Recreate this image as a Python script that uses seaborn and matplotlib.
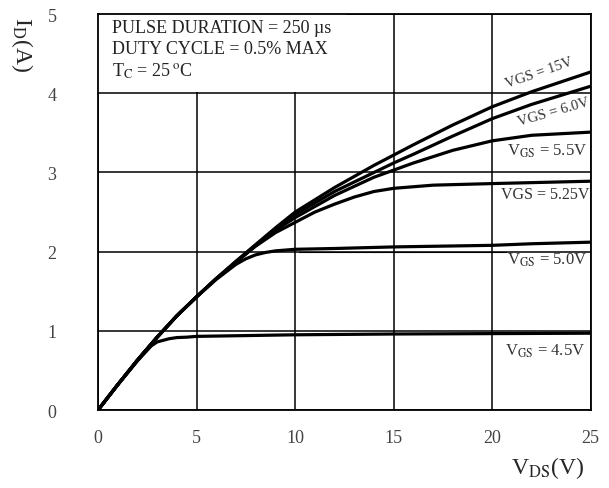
import pandas as pd
import matplotlib.pyplot as plt
import seaborn as sns
from matplotlib.patches import Rectangle

# -------------------------------
# Data
# -------------------------------
vds_15 = [0, 1, 2, 3, 4, 5, 6, 7, 8, 9, 10, 12, 14, 15, 16, 18, 20, 22, 25]
id_15 = [0, 0.32, 0.63, 0.92, 1.19, 1.43, 1.66, 1.88, 2.09, 2.30, 2.50,
         2.81, 3.09, 3.22, 3.35, 3.60, 3.83, 4.02, 4.27]

vds_60 = [0, 1, 2, 3, 4, 5, 6, 7, 8, 9, 10, 12, 14, 15, 16, 18, 20, 22, 25]
id_60 = [0, 0.32, 0.63, 0.92, 1.19, 1.43, 1.66, 1.87, 2.08, 2.29, 2.47,
         2.76, 3.00, 3.12, 3.23, 3.46, 3.68, 3.86, 4.09]

vds_55 = [0, 1, 2, 3, 4, 5, 6, 7, 8, 9, 10, 12, 14, 15, 16, 18, 20, 22, 25]
id_55 = [0, 0.32, 0.63, 0.92, 1.19, 1.43, 1.66, 1.87, 2.08, 2.27, 2.43,
         2.71, 2.94, 3.03, 3.12, 3.28, 3.40, 3.47, 3.51]

vds_525 = [0, 1, 2, 3, 4, 5, 6, 7, 8, 9, 10, 11, 12, 13, 14, 15, 17, 20, 25]
id_525 = [0, 0.32, 0.63, 0.92, 1.19, 1.43, 1.66, 1.87, 2.07, 2.24, 2.37,
          2.50, 2.60, 2.69, 2.76, 2.80, 2.84, 2.86, 2.89]

vds_50 = [0, 1, 2, 3, 4, 5, 6, 7, 7.5, 8, 8.5, 9, 10, 12, 15, 20, 22, 25]
id_50 = [0, 0.32, 0.63, 0.92, 1.19, 1.43, 1.65, 1.84, 1.91, 1.96, 1.99,
         2.01, 2.03, 2.04, 2.06, 2.08, 2.10, 2.12]

vds_45 = [0, 1, 2, 2.7, 3.0, 3.3, 3.6, 4.0, 4.5, 5, 10, 15, 20, 25]
id_45 = [0, 0.32, 0.62, 0.81, 0.86, 0.88, 0.90, 0.915, 0.92, 0.93, 0.95,
         0.96, 0.965, 0.97]

x_ticks = [0, 5, 10, 15, 20, 25]
y_ticks = [0, 1, 2, 3, 4, 5]

header_lines = ["PULSE DURATION = 250 µs",
                "DUTY CYCLE = 0.5% MAX",
                r"T$_{\rm C}$ = 25$\,^{\rm o}$C"]

# -------------------------------
# Style
# -------------------------------
sns.set_style("white")
plt.rcParams["font.family"] = ["Liberation Serif", "DejaVu Serif"]
plt.rcParams["mathtext.fontset"] = "stix"

fig = plt.figure(figsize=(6.09, 4.89), dpi=100)
ax = fig.add_axes([0.161, 0.1595, 0.809, 0.8095])

curves = [(vds_15, id_15), (vds_60, id_60), (vds_55, id_55),
          (vds_525, id_525), (vds_50, id_50), (vds_45, id_45)]
for vx, iy in curves:
    df = pd.DataFrame({"VDS": vx, "ID": iy})
    sns.lineplot(data=df, x="VDS", y="ID", ax=ax, color="black",
                 linewidth=2.3, estimator=None, sort=False, zorder=3)

# thin leader line under the 5.0V curve
ax.plot([10.2, 20.7], [1.99, 1.99], color="black", lw=0.8, zorder=3)

ax.set_xlim(0, 25)
ax.set_ylim(0, 5)
ax.set_xticks(x_ticks)
ax.set_yticks(y_ticks)
ax.set_xlabel("")
ax.set_ylabel("")
ax.tick_params(axis="x", length=0, pad=14, labelsize=13, labelcolor="#444444")
ax.tick_params(axis="y", length=0, pad=30, labelsize=13, labelcolor="#444444")

ax.set_axisbelow(True)
ax.grid(True, color="black", lw=1.1)
for s in ax.spines.values():
    s.set_color("black")
    s.set_linewidth(1.3)

# white box behind the test conditions
ax.add_patch(Rectangle((0, 4.015), 12.6, 0.985, facecolor="white",
                       edgecolor="none", zorder=1))

ys = [4.78, 4.51, 4.22]
for txt, yy in zip(header_lines, ys):
    ax.text(0.7, yy, txt, fontsize=13, color="#222222", va="baseline",
            ha="left", zorder=4)

# curve labels
ax.text(22.4, 4.27, "VGS = 15V", fontsize=10.5, rotation=19,
        ha="center", va="center", color="#333333", zorder=4)
ax.text(23.1, 3.77, "VGS = 6.0V", fontsize=10.5, rotation=16,
        ha="center", va="center", color="#333333", zorder=4)
ax.text(22.8, 3.28, r"V$_{\rm GS}$ = 5.5V", fontsize=12,
        ha="center", va="center", color="#333333", zorder=4)
ax.text(22.7, 2.73, "VGS = 5.25V", fontsize=11.5,
        ha="center", va="center", color="#333333", zorder=4)
ax.text(22.8, 1.90, r"V$_{\rm GS}$ = 5.0V", fontsize=12,
        ha="center", va="center", color="#333333", zorder=4)
ax.text(22.7, 0.76, r"V$_{\rm GS}$ = 4.5V", fontsize=12,
        ha="center", va="center", color="#333333", zorder=4)

# axis titles
fig.text(22 / 609, 1 - 45 / 489, r"I$_{\rm D}$(A)", rotation=270,
         fontsize=17, ha="center", va="center")
fig.text(548 / 609, 1 - 468 / 489, r"V$_{\rm DS}$(V)",
         fontsize=17, ha="center", va="center")

plt.savefig("out.png", dpi=100)
